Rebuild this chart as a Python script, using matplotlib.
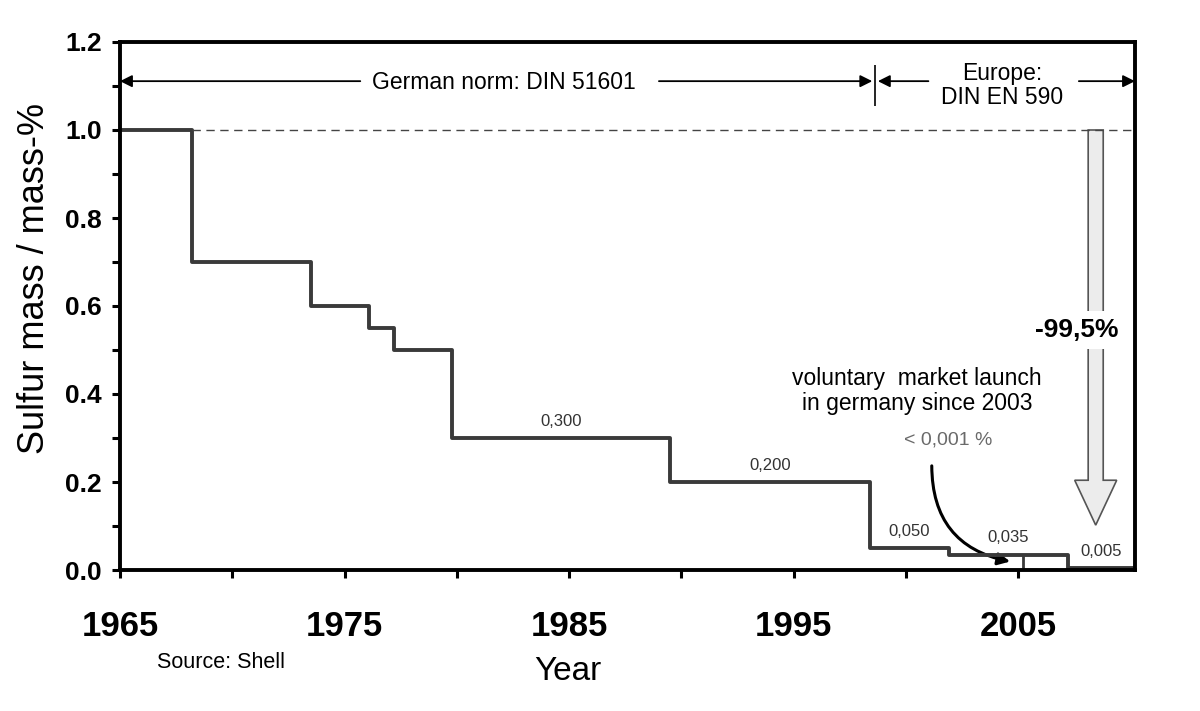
import matplotlib.pyplot as plt
from matplotlib.patches import FancyArrow, FancyArrowPatch
from matplotlib.ticker import FixedLocator, MultipleLocator

plt.rcParams['font.family'] = ['Liberation Sans', 'DejaVu Sans']

# Sulfur limit in diesel.
# Each value holds from its year until the next one.
years = [1965, 1968.2, 1973.5, 1976.1, 1977.2, 1979.8, 1989.5, 1998.4, 2001.9, 2007.2, 2010.2]
sulfur = [1.0, 0.7, 0.6, 0.55, 0.5, 0.3, 0.2, 0.05, 0.035, 0.005, 0.005]

# steps that get a value label above them (index into years/sulfur)
labelled_steps = [5, 6, 7, 8, 9]

# sulfur-free diesel (< 0,001 %), voluntary launch
launch_year = 2005.2
launch_level = 0.001

# switch from the German norm to the European one
norm_switch = 1998.6

x_major = [1965, 1975, 1985, 1995, 2005]
x_minor = [1970, 1980, 1990, 2000]
x_max = 2010.2

fig = plt.figure(figsize=(12, 7.11), dpi=100)
ax = fig.add_axes([120 / 1200, 1 - 570 / 711, 1015 / 1200, 528 / 711])

ax.step(years, sulfur, where='post', color='#3a3a3a', lw=2.8)

# reference line at the old 1 % limit
ax.hlines(1.0, years[1], x_max, colors='#444444', lw=1, linestyles=(0, (6, 4)))

# 2003 sulfur-free launch
ax.plot([launch_year, launch_year], [sulfur[8], launch_level], color='#3a3a3a', lw=2)
ax.hlines(launch_level, launch_year, x_max, colors='#2a2a2a', lw=2.5,
          linestyles=(0, (4, 2)))

for i in labelled_steps:
    xm = (years[i] + years[i + 1]) / 2
    txt = f'{sulfur[i]:.3f}'.replace('.', ',')
    ax.annotate(txt, (xm, sulfur[i]), xytext=(0, 12), textcoords='offset points',
                ha='center', va='center', fontsize=12, color='#333333')

# norm ranges at the top
arrow_y = 1.111
head = dict(arrowstyle='-|>', color='black', lw=1.3, mutation_scale=18,
            shrinkA=0, shrinkB=0)
ax.annotate('', xy=(1965, arrow_y), xytext=(1975.7, arrow_y), arrowprops=head)
ax.annotate('', xy=(norm_switch - 0.1, arrow_y), xytext=(1989.0, arrow_y), arrowprops=head)
ax.annotate('', xy=(norm_switch + 0.15, arrow_y), xytext=(2001.0, arrow_y), arrowprops=head)
ax.annotate('', xy=(x_max, arrow_y), xytext=(2007.7, arrow_y), arrowprops=head)
ax.vlines(norm_switch, 1.055, 1.148, colors='black', lw=1.2)
ax.text(1982.1, 1.107, 'German norm: DIN 51601', ha='center', va='center', fontsize=16.5)
ax.text(2004.3, 1.101, 'Europe:\nDIN EN 590', ha='center', va='center', fontsize=16.5,
        linespacing=1.05)

# overall reduction arrow
big = FancyArrow(2008.45, 1.0, 0, -0.898, width=0.67, head_width=1.87, head_length=0.102,
                 length_includes_head=True, fc='#ececec', ec='#555555', lw=1.2)
ax.add_patch(big)
ax.text(2007.6, 0.545, '-99,5%', fontsize=19, weight='bold', ha='center', va='center',
        bbox=dict(fc='white', ec='none', pad=5))

# voluntary launch note
ax.text(2000.5, 0.407, 'voluntary  market launch\nin germany since 2003', ha='center',
        va='center', fontsize=16.5, linespacing=1.15)
ax.text(2001.87, 0.295, '< 0,001 %', ha='center', va='center', fontsize=14,
        color='#6a6a6a')
curve = FancyArrowPatch((2001.15, 0.243), (2004.76, 0.018),
                        connectionstyle='arc3,rad=0.42', arrowstyle='-|>',
                        mutation_scale=18, lw=2.2, color='black')
ax.add_patch(curve)

ax.set_xlim(1965, x_max)
ax.set_ylim(0, 1.2)
ax.xaxis.set_major_locator(FixedLocator(x_major))
ax.xaxis.set_minor_locator(FixedLocator(x_minor))
ax.yaxis.set_major_locator(MultipleLocator(0.2))
ax.yaxis.set_minor_locator(MultipleLocator(0.1))
ax.yaxis.set_major_formatter(lambda v, pos: f'{v:.1f}')

for s in ax.spines.values():
    s.set_linewidth(2.8)
ax.tick_params(which='both', direction='out', length=6, width=2.2)
ax.tick_params(axis='x', pad=23)
ax.tick_params(axis='y', pad=7)
for t in ax.get_xticklabels():
    t.set_fontsize(25)
    t.set_fontweight('bold')
for t in ax.get_yticklabels():
    t.set_fontsize(19)
    t.set_fontweight('bold')

ax.set_xlabel('Year', fontsize=24, va='center')
ax.xaxis.set_label_coords(0.441, -0.192)
ax.set_ylabel('Sulfur mass / mass-%', fontsize=26, va='center')
ax.yaxis.set_label_coords(-0.084, 0.553)

fig.text(157 / 1200, 1 - 663 / 711, 'Source: Shell', fontsize=15.5, va='center')

fig.savefig('out.png', dpi=100)
